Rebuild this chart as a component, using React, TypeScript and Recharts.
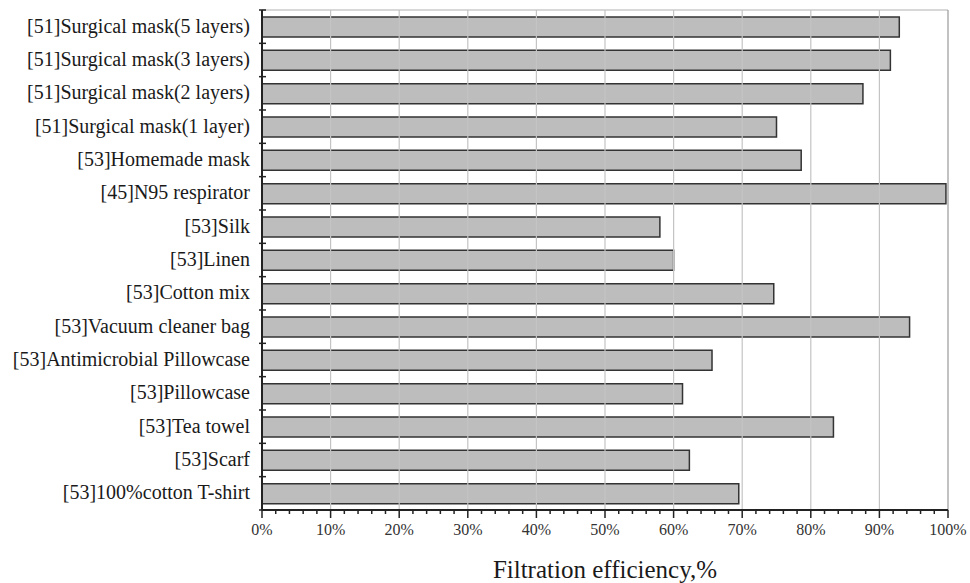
import { BarChart, Bar, XAxis, YAxis, ReferenceLine, CartesianGrid } from 'recharts'

const categories = [
  '[51]Surgical mask(5 layers)',
  '[51]Surgical mask(3 layers)',
  '[51]Surgical mask(2 layers)',
  '[51]Surgical mask(1 layer)',
  '[53]Homemade mask',
  '[45]N95 respirator',
  '[53]Silk',
  '[53]Linen',
  '[53]Cotton mix',
  '[53]Vacuum cleaner bag',
  '[53]Antimicrobial Pillowcase',
  '[53]Pillowcase',
  '[53]Tea towel',
  '[53]Scarf',
  '[53]100%cotton T-shirt',
]

const efficiency = [92.9, 91.6, 87.6, 75.0, 78.6, 99.7, 58.0, 60.0, 74.6, 94.4, 65.6, 61.3, 83.3, 62.3, 69.5]

const xTicks = [0, 2, 4, 6, 8, 10, 12, 14, 16, 18, 20, 22, 24, 26, 28, 30, 32, 34, 36, 38, 40, 42, 44, 46, 48, 50, 52, 54, 56, 58, 60, 62, 64, 66, 68, 70, 72, 74, 76, 78, 80, 82, 84, 86, 88, 90, 92, 94, 96, 98, 100]
const gridValues = [10, 20, 30, 40, 50, 60, 70, 80, 90, 100]

const data = categories.map((name, i) => ({ name, value: efficiency[i] }))

const W = 970
const H = 583
const M = { top: 10, right: 22, bottom: 0, left: 12 }
const X_AXIS_H = 73
const PLOT_H = H - M.top - M.bottom - X_AXIS_H
const STEP = PLOT_H / categories.length
const FONT = '"Times New Roman", "Liberation Serif", "DejaVu Serif", serif'

function YTick(props: any) {
  const { x, y, payload, index } = props
  return (
    <g>
      <line x1={x - 3} x2={x + 4} y1={y - STEP / 2} y2={y - STEP / 2} stroke="#222" strokeWidth={1.5} />
      {index === categories.length - 1 && (
        <line x1={x - 3} x2={x + 4} y1={y + STEP / 2} y2={y + STEP / 2} stroke="#222" strokeWidth={1.5} />
      )}
      <text x={x - 12} y={y} dy={6} textAnchor="end" style={{ fontFamily: FONT, fontSize: 20 }} fill="#1a1a1a">
        {payload.value}
      </text>
    </g>
  )
}

function XTick(props: any) {
  const { x, y, payload } = props
  const major = payload.value % 10 === 0
  return (
    <g>
      <line x1={x} x2={x} y1={y} y2={y + (major ? 8 : 4)} stroke="#222" strokeWidth={1.5} />
      {major && (
        <text x={x} y={y + 25} textAnchor="middle" style={{ fontFamily: FONT, fontSize: 16 }} fill="#333">
          {payload.value + '%'}
        </text>
      )}
    </g>
  )
}

export default function App() {
  return (
    <div style={{ position: 'absolute', left: 0, top: 0, background: '#fff' }}>
      <BarChart width={W} height={H} data={data} layout="vertical" margin={M} barSize={20}>
        <CartesianGrid
          vertical={false}
          horizontalCoordinatesGenerator={({ offset }: any) => [offset.top]}
          stroke="#b0b0b0"
        />
        <XAxis
          type="number"
          domain={[0, 100]}
          ticks={xTicks}
          interval={0}
          tick={<XTick />}
          tickLine={false}
          tickSize={0}
          tickMargin={0}
          height={X_AXIS_H}
          axisLine={{ stroke: '#222', strokeWidth: 2 }}
          label={{ value: 'Filtration efficiency,%', position: 'insideBottom', offset: 5, style: { fontSize: 25, fontFamily: FONT }, fill: '#1a1a1a' }}
        />
        <YAxis
          type="category"
          dataKey="name"
          width={250}
          interval={0}
          tick={<YTick />}
          tickLine={false}
          tickSize={0}
          tickMargin={0}
          axisLine={{ stroke: '#222', strokeWidth: 2 }}
        />
        {gridValues.map(v => (
          <ReferenceLine key={v} x={v} stroke={v === 100 ? '#999' : '#c4c4c4'} strokeWidth={1.2} />
        ))}
        <Bar dataKey="value" fill="#bdbdbd" stroke="#333" strokeWidth={1.5} isAnimationActive={false} />
      </BarChart>
    </div>
  )
}
